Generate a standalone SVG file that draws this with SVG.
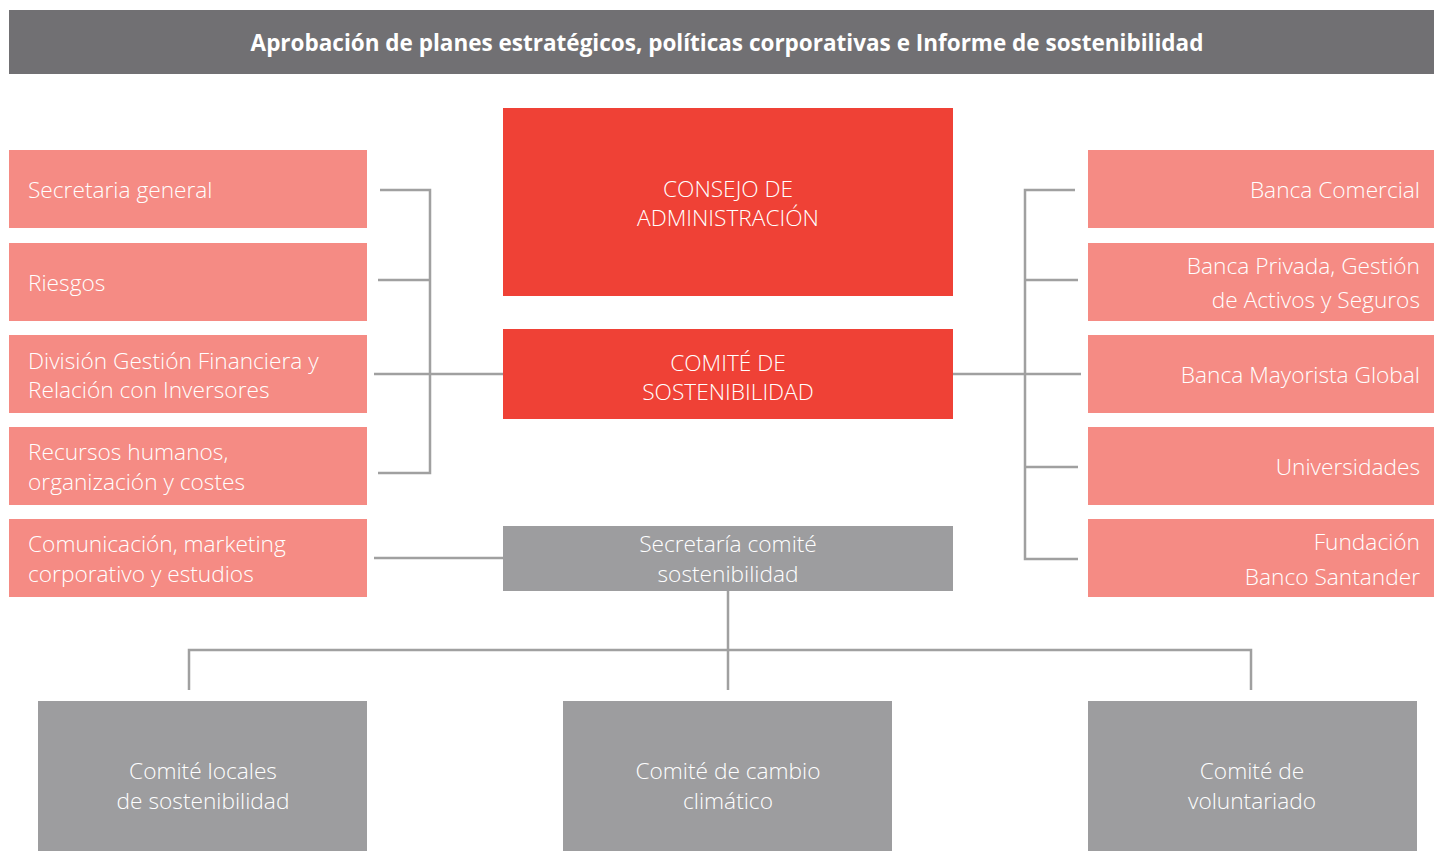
<svg xmlns="http://www.w3.org/2000/svg" width="1434" height="851" viewBox="0 0 1434 851">
<style>
.hdr{fill:#717073}
.pink{fill:#f58b84}
.red{fill:#ef4136}
.grey{fill:#9d9d9f}
.t{font-family:"Open Sans","Liberation Sans",sans-serif;font-weight:300;font-size:22.7px;fill:#ffffff}
.tl{text-anchor:start}
.tr{text-anchor:end}
.tc{text-anchor:middle}
.h{font-family:"Open Sans","Liberation Sans",sans-serif;font-weight:700;font-size:22.5px;fill:#ffffff;text-anchor:middle}
.c{stroke:#a0a0a0;stroke-width:2.5;fill:none}
</style>
<rect width="1434" height="851" fill="#ffffff"/>
<g id="header">
<rect class="hdr" x="9" y="10" width="1425" height="64"/>
<text class="h" x="727" y="51">Aprobación de planes estratégicos, políticas corporativas e Informe de sostenibilidad</text>
</g>
<g id="connectors">
<path class="c" d="M380 190H430V473H378M378 280H430M374 374H503M374 558H503"/>
<path class="c" d="M1075 190H1025V559H1078M1078 280H1025M953 374H1081M1078 467H1025"/>
<path class="c" d="M728 591V690M189 690V650H1251V690"/>
</g>
<g id="consejo">
<rect class="red" x="503" y="108" width="450" height="188"/>
<text class="t tc" x="728" y="197">CONSEJO DE</text>
<text class="t tc" x="728" y="226">ADMINISTRACIÓN</text>
</g>
<g id="comite">
<rect class="red" x="503" y="329" width="450" height="90"/>
<text class="t tc" x="728" y="371">COMITÉ DE</text>
<text class="t tc" x="728" y="400">SOSTENIBILIDAD</text>
</g>
<g id="secretaria-comite">
<rect class="grey" x="503" y="526" width="450" height="65"/>
<text class="t tc" x="728" y="552">Secretaría comité</text>
<text class="t tc" x="728" y="582">sostenibilidad</text>
</g>
<g id="secretaria-general">
<rect class="pink" x="9" y="150" width="358" height="78"/>
<text class="t tl" x="28" y="198">Secretaria general</text>
</g>
<g id="riesgos">
<rect class="pink" x="9" y="243" width="358" height="78"/>
<text class="t tl" x="28" y="291">Riesgos</text>
</g>
<g id="division-gestion">
<rect class="pink" x="9" y="335" width="358" height="78"/>
<text class="t tl" x="28" y="369">División Gestión Financiera y</text>
<text class="t tl" x="28" y="398">Relación con Inversores</text>
</g>
<g id="recursos-humanos">
<rect class="pink" x="9" y="427" width="358" height="78"/>
<text class="t tl" x="28" y="460">Recursos humanos,</text>
<text class="t tl" x="28" y="490">organización y costes</text>
</g>
<g id="comunicacion">
<rect class="pink" x="9" y="519" width="358" height="78"/>
<text class="t tl" x="28" y="552">Comunicación, marketing</text>
<text class="t tl" x="28" y="582">corporativo y estudios</text>
</g>
<g id="banca-comercial">
<rect class="pink" x="1088" y="150" width="346" height="78"/>
<text class="t tr" x="1420" y="198">Banca Comercial</text>
</g>
<g id="banca-privada">
<rect class="pink" x="1088" y="243" width="346" height="78"/>
<text class="t tr" x="1420" y="274">Banca Privada, Gestión</text>
<text class="t tr" x="1420" y="308">de Activos y Seguros</text>
</g>
<g id="banca-mayorista">
<rect class="pink" x="1088" y="335" width="346" height="78"/>
<text class="t tr" x="1420" y="383">Banca Mayorista Global</text>
</g>
<g id="universidades">
<rect class="pink" x="1088" y="427" width="346" height="78"/>
<text class="t tr" x="1420" y="475">Universidades</text>
</g>
<g id="fundacion">
<rect class="pink" x="1088" y="519" width="346" height="78"/>
<text class="t tr" x="1420" y="550">Fundación</text>
<text class="t tr" x="1420" y="585">Banco Santander</text>
</g>
<g id="comite-locales">
<rect class="grey" x="38" y="701" width="329" height="150"/>
<text class="t tc" x="203" y="779">Comité locales</text>
<text class="t tc" x="203" y="809">de sostenibilidad</text>
</g>
<g id="comite-cambio">
<rect class="grey" x="563" y="701" width="329" height="150"/>
<text class="t tc" x="728" y="779">Comité de cambio</text>
<text class="t tc" x="728" y="809">climático</text>
</g>
<g id="comite-voluntariado">
<rect class="grey" x="1088" y="701" width="329" height="150"/>
<text class="t tc" x="1252" y="779">Comité de</text>
<text class="t tc" x="1252" y="809">voluntariado</text>
</g>
</svg>
